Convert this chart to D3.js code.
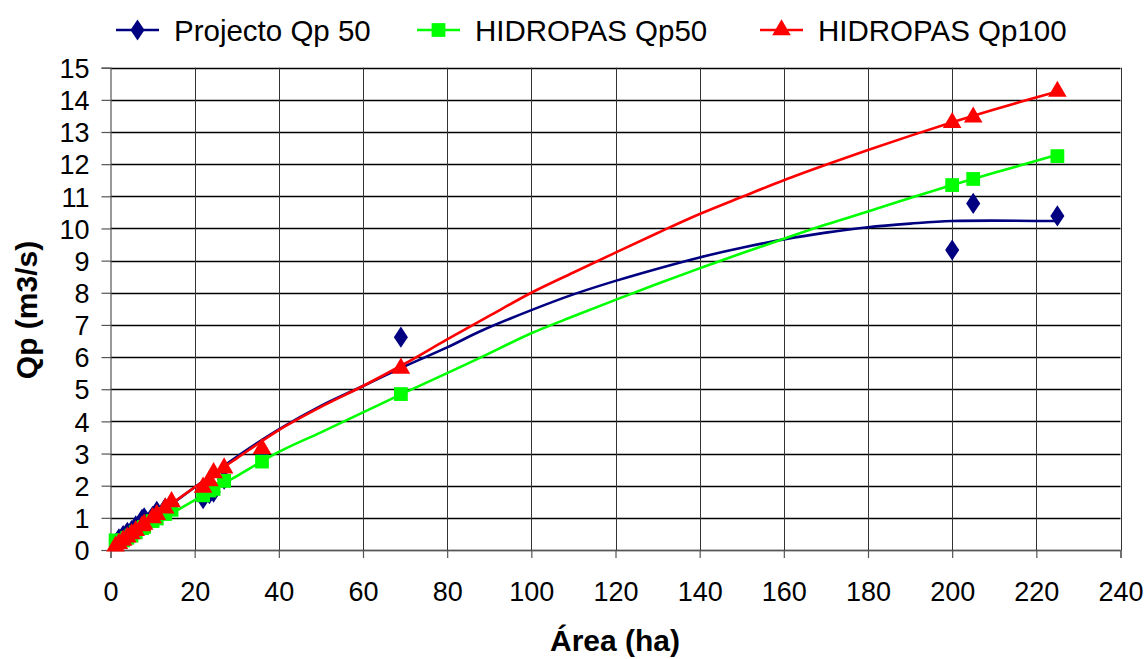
<!DOCTYPE html>
<html><head><meta charset="utf-8">
<script src="https://cdn.jsdelivr.net/npm/d3@7"></script>
<style>html,body{margin:0;padding:0;background:#fff;}svg{display:block;font-family:"Liberation Sans",Arial,sans-serif;}</style>
</head><body>
<svg id="c" width="1148" height="659"></svg>
<script>
// ---- data ----
const seriesNames = ["Projecto Qp 50", "HIDROPAS Qp50", "HIDROPAS Qp100"];
const seriesColors = ["#000080", "#00FF00", "#FF0000"];

// observed points (markers)
const projX = [2, 3, 4, 5, 6, 7.5, 8, 10, 11, 13, 14.5, 22, 23.5, 24.5, 27, 36, 69, 200, 205, 225];
const projY = [0.35, 0.45, 0.55, 0.6, 0.75, 0.95, 1.0, 1.05, 1.2, 1.3, 1.45, 1.6, 1.75, 1.8, 2.2, 3.05, 6.62, 9.33, 10.78, 10.39];
const hq50X = [1.2, 2, 3, 4, 5, 6, 7.5, 8, 10, 11, 13, 14.5, 22, 23.5, 24.5, 27, 36, 69, 200, 205, 225];
const hq50Y = [0.3, 0.25, 0.3, 0.38, 0.45, 0.55, 0.68, 0.72, 0.9, 0.98, 1.12, 1.25, 1.7, 1.85, 1.9, 2.15, 2.75, 4.85, 11.35, 11.54, 12.25];
const hq100X = [1.2, 2, 3, 4, 5, 6, 7.5, 8, 10, 11, 13, 14.5, 22, 23.5, 24.5, 27, 36, 69, 200, 205, 225];
const hq100Y = [0.12, 0.2, 0.3, 0.4, 0.5, 0.6, 0.75, 0.8, 1.0, 1.1, 1.3, 1.5, 1.95, 2.15, 2.4, 2.55, 3.15, 5.65, 13.29, 13.46, 14.26];

// fitted curves (lines)
const projLineX = [2, 10, 20, 30, 40, 50, 60, 70, 80, 88, 100, 110, 120, 130, 140, 150, 160, 170, 180, 190, 200, 225];
const projLineY = [0.25, 1.0, 1.95, 2.9, 3.75, 4.48, 5.1, 5.72, 6.3, 6.81, 7.46, 7.95, 8.37, 8.75, 9.1, 9.4, 9.66, 9.87, 10.04, 10.15, 10.23, 10.23];
const hq50LineX = [2, 10, 20, 30, 40, 50, 60, 70, 80, 88, 100, 110, 120, 130, 140, 150, 160, 170, 180, 190, 200, 210, 225];
const hq50LineY = [0.2, 0.8, 1.55, 2.3, 3.05, 3.66, 4.28, 4.9, 5.5, 5.99, 6.74, 7.27, 7.78, 8.28, 8.76, 9.23, 9.68, 10.12, 10.53, 10.95, 11.35, 11.73, 12.29];
const hq100LineX = [1, 10, 20, 30, 40, 50, 60, 70, 80, 90, 100, 110, 120, 130, 140, 150, 160, 170, 180, 190, 200, 210, 225];
const hq100LineY = [0.05, 1.0, 1.95, 2.85, 3.73, 4.45, 5.1, 5.8, 6.55, 7.28, 8.0, 8.63, 9.25, 9.86, 10.45, 10.98, 11.5, 11.98, 12.44, 12.88, 13.3, 13.7, 14.26];

const xTicks = [0, 20, 40, 60, 80, 100, 120, 140, 160, 180, 200, 220, 240];
const yTicks = [0, 1, 2, 3, 4, 5, 6, 7, 8, 9, 10, 11, 12, 13, 14, 15];
const xTitle = "Área (ha)";
const yTitle = "Qp (m3/s)";

// ---- drawing ----
const svg = d3.select("#c");
const L = 110.5, R = 1120.5, T = 67.7, B = 550;
const x = d3.scaleLinear().domain([0, 240]).range([L, R]);
const y = d3.scaleLinear().domain([0, 15]).range([B, T]);

const zip = (a, b) => a.map((v, i) => [v, b[i]]);
const points = [zip(projX, projY), zip(hq50X, hq50Y), zip(hq100X, hq100Y)];
const curves = [zip(projLineX, projLineY), zip(hq50LineX, hq50LineY), zip(hq100LineX, hq100LineY)];

// grid
svg.append("g").selectAll("line").data(yTicks).join("line")
  .attr("x1", L).attr("x2", R).attr("y1", d => Math.round(y(d)) + 0.5).attr("y2", d => Math.round(y(d)) + 0.5)
  .attr("stroke", "#000").attr("stroke-width", 1.3);
svg.append("g").selectAll("line").data(xTicks.slice(1)).join("line")
  .attr("y1", T).attr("y2", B).attr("x1", d => Math.round(x(d)) + 0.5).attr("x2", d => Math.round(x(d)) + 0.5)
  .attr("stroke", "#333").attr("stroke-width", 1);

// axes
const xAxis = svg.append("g").attr("transform", `translate(0,${B})`)
  .call(d3.axisBottom(x).tickValues(xTicks).tickSize(8).tickPadding(24).tickFormat(d3.format("d")));
const yAxis = svg.append("g").attr("transform", `translate(${L},0)`)
  .call(d3.axisLeft(y).tickValues(yTicks).tickSize(9).tickPadding(12).tickFormat(d3.format("d")));
[xAxis, yAxis].forEach(g => {
  g.select(".domain").attr("stroke", "#555").attr("stroke-width", 1.2);
  g.selectAll(".tick line").attr("stroke", "#555").attr("stroke-width", 1.2);
  g.selectAll("text").attr("font-size", 27).attr("fill", "#000").attr("font-family", "Liberation Sans, Arial, sans-serif");
});
yAxis.selectAll("text").attr("dy", "0.36em");

// lines
const line = d3.line().x(d => x(d[0])).y(d => y(d[1])).curve(d3.curveCatmullRom.alpha(0.5));
curves.forEach((c, i) => {
  svg.append("path").datum(c).attr("d", line).attr("fill", "none")
    .attr("stroke", seriesColors[i]).attr("stroke-width", 2.6);
});

// markers
const symbols = [d3.symbolDiamond, d3.symbolSquare, d3.symbolTriangle];
const sizes = [130, 190, 150];
function marker(g, i, cx, cy, scale = 1) {
  const s = d3.symbol().type(symbols[i]).size(sizes[i] * scale);
  g.append("path").attr("d", s()).attr("transform", `translate(${cx},${cy})${i === 0 ? " scale(1.15,1)" : ""}`)
    .attr("fill", seriesColors[i]);
}
points.forEach((pts, i) => {
  const g = svg.append("g");
  pts.forEach(p => marker(g, i, x(p[0]), y(p[1])));
});

// legend
const legX = [116, 417, 760];
const legY = 30;
seriesNames.forEach((n, i) => {
  const g = svg.append("g");
  g.append("line").attr("x1", legX[i]).attr("x2", legX[i] + 43).attr("y1", legY).attr("y2", legY)
    .attr("stroke", seriesColors[i]).attr("stroke-width", 2.6);
  marker(g, i, legX[i] + 21.5, legY);
  g.append("text").attr("x", legX[i] + 58).attr("y", legY + 10.5).attr("font-size", 29.5).text(n);
});

// titles
svg.append("text").attr("x", 615).attr("y", 651).attr("text-anchor", "middle")
  .attr("font-size", 30).attr("font-weight", "bold").text(xTitle);
svg.append("text").attr("transform", "translate(37,310) rotate(-90)").attr("text-anchor", "middle")
  .attr("font-size", 30).attr("font-weight", "bold").text(yTitle);
</script>
</body></html>
